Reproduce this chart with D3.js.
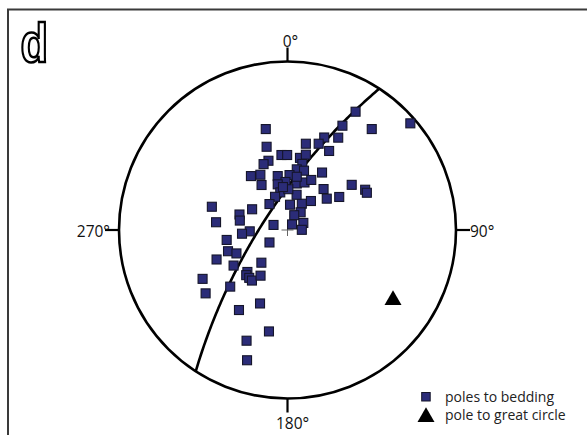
<!DOCTYPE html>
<html><head><meta charset="utf-8">
<script src="https://cdn.jsdelivr.net/npm/d3@7"></script>
<style>html,body{margin:0;padding:0;background:#fff;}svg{display:block;}</style>
</head><body>
<script>
// Poles to bedding, stereonet plane coordinates (east, north) in units of the primitive radius
const poleEast = [-0.129,-0.124,0.404,0.326,0.500,0.729,0.218,0.301,0.109,0.185,0.247,-0.036,-0.002,0.074,0.109,-0.113,-0.142,0.088,0.055,0.098,
  -0.217,-0.161,-0.154,-0.058,0.012,-0.012,-0.058,0.055,0.101,0.141,0.205,0.381,0.461,0.471,0.214,0.233,0.307,0.139,0.085,0.054,
  -0.043,-0.074,0.005,-0.107,0.015,0.078,0.040,0.094,0.027,0.085,-0.083,-0.210,-0.285,-0.283,-0.449,-0.424,-0.224,-0.270,-0.361,-0.107,
  -0.353,-0.303,-0.421,-0.320,-0.155,-0.238,-0.245,-0.227,-0.211,-0.160,-0.504,-0.486,-0.340,-0.288,-0.163,-0.110,-0.243,-0.240,0.055,-0.027];
const poleNorth = [0.599,0.494,0.702,0.619,0.599,0.633,0.549,0.548,0.512,0.512,0.469,0.445,0.445,0.428,0.447,0.411,0.391,0.392,0.360,0.352,
  0.320,0.328,0.267,0.320,0.326,0.285,0.271,0.276,0.282,0.297,0.341,0.268,0.239,0.221,0.243,0.186,0.196,0.172,0.156,0.209,
  0.223,0.197,0.242,0.154,0.150,0.105,0.088,0.042,0.033,0.001,0.030,0.123,0.092,0.056,0.138,0.046,-0.008,-0.022,-0.059,-0.074,
  -0.126,-0.139,-0.175,-0.211,-0.194,-0.249,-0.268,-0.284,-0.300,-0.271,-0.290,-0.376,-0.336,-0.475,-0.436,-0.602,-0.657,-0.773,0.316,0.255];
// Pole to the best-fit great circle (trend, plunge in degrees)
const circlePoleTrend = [123];
const circlePolePlunge = [16.5];
const directionAngles = [0, 90, 180, 270];
const directionLabels = ["0°", "90°", "180°", "270°"];
const legendLabels = ["poles to bedding", "pole to great circle"];
const panelLabel = "d";

const W = 587, H = 435, cx = 287.5, cy = 230, R = 168.5;
const svg = d3.select("body").append("svg").attr("width", W).attr("height", H);
svg.append("rect").attr("width", W).attr("height", H).attr("fill", "#fff");
svg.append("rect").attr("x", 8).attr("y", 9.5).attr("width", 620).attr("height", 460)
  .attr("fill", "none").attr("stroke", "#3a3a3a").attr("stroke-width", 2);

const x = d3.scaleLinear().domain([-1, 1]).range([cx - R, cx + R]);
const y = d3.scaleLinear().domain([-1, 1]).range([cy + R, cy - R]);
const rad = Math.PI / 180;
// equal-angle (Wulff) lower-hemisphere projection of a unit vector (north, east, down)
function wulff(v) { return [v[1] / (1 + v[2]), v[0] / (1 + v[2])]; }
function vec(trend, plunge) {
  return [Math.cos(plunge * rad) * Math.cos(trend * rad), Math.cos(plunge * rad) * Math.sin(trend * rad), Math.sin(plunge * rad)];
}

// primitive circle
svg.append("circle").attr("cx", x(0)).attr("cy", y(0)).attr("r", x(1) - x(0))
  .attr("fill", "none").attr("stroke", "#000").attr("stroke-width", 2.6);

// ticks and labels
const tickLen = 14;
directionAngles.forEach((a, i) => {
  const s = Math.sin(a * rad), c = Math.cos(a * rad);
  svg.append("line")
    .attr("x1", x(s)).attr("y1", y(c))
    .attr("x2", x(s) + s * tickLen).attr("y2", y(c) - c * tickLen)
    .attr("stroke", "#000").attr("stroke-width", 2.2);
});
const lab = svg.append("g").attr("font-family", "'Open Sans', sans-serif").attr("font-size", 15.5).attr("fill", "#111");
lab.append("text").attr("x", x(0) - 4.8).attr("y", y(1) - 15).text(directionLabels[0]);
lab.append("text").attr("x", x(1) + 14).attr("y", y(0) + 6.5).text(directionLabels[1]);
lab.append("text").attr("x", x(0) - 11.5).attr("y", y(-1) + 30.5).text(directionLabels[2]);
lab.append("text").attr("x", x(-1) - 9).attr("y", y(0) + 6.5).attr("text-anchor", "end").text(directionLabels[3]);

// centre cross
svg.append("path").attr("d", `M${x(0)-6},${y(0)}H${x(0)+6}M${x(0)},${y(0)-6}V${y(0)+6}`)
  .attr("stroke", "#666").attr("stroke-width", 1);

// great circle normal to the pole
const pole = vec(circlePoleTrend[0], circlePolePlunge[0]);
const strike = vec(circlePoleTrend[0] - 90, 0);
const dip = vec(circlePoleTrend[0] + 180, 90 - circlePolePlunge[0]);
const gc = d3.range(0, 180.5, 1).map(t => {
  const v = [0, 1, 2].map(k => Math.cos(t * rad) * strike[k] + Math.sin(t * rad) * dip[k]);
  return wulff(v);
});
svg.append("path").datum(gc)
  .attr("d", d3.line().x(d => x(d[0])).y(d => y(d[1])))
  .attr("fill", "none").attr("stroke", "#000").attr("stroke-width", 2.6);

// poles to bedding
const sq = 9;
svg.append("g").selectAll("rect").data(poleEast.map((e, i) => [e, poleNorth[i]])).join("rect")
  .attr("x", d => x(d[0]) - sq / 2).attr("y", d => y(d[1]) - sq / 2)
  .attr("width", sq).attr("height", sq)
  .attr("fill", "#2b2c78").attr("stroke", "#15152a").attr("stroke-width", 1.1);

// pole to great circle
const pp = wulff(pole);
const tri = d3.symbol(d3.symbolTriangle).size(125);
svg.append("path").attr("d", tri()).attr("transform", `translate(${x(pp[0])},${y(pp[1]) + 1.5})`).attr("fill", "#000");

// legend
svg.append("rect").attr("x", 421.7).attr("y", 392.5).attr("width", 8.5).attr("height", 8.5)
  .attr("fill", "#2b2c78").attr("stroke", "#15152a").attr("stroke-width", 1);
svg.append("path").attr("d", tri()).attr("transform", "translate(426,417)").attr("fill", "#000");
const lg = svg.append("g").attr("font-family", "'Open Sans', sans-serif").attr("font-size", 14).attr("fill", "#222");
lg.append("text").attr("x", 445).attr("y", 401.5).text(legendLabels[0]);
lg.append("text").attr("x", 445).attr("y", 420).text(legendLabels[1]);

// panel letter
svg.append("text").attr("transform", "translate(20.5,61.5) scale(0.82,1)")
  .attr("font-family", "'Liberation Sans', Arial, sans-serif")
  .attr("font-weight", "bold").attr("font-size", 55).attr("fill", "#fff").attr("stroke", "#000").attr("stroke-width", 2.6)
  .text(panelLabel);
</script>
</body></html>
